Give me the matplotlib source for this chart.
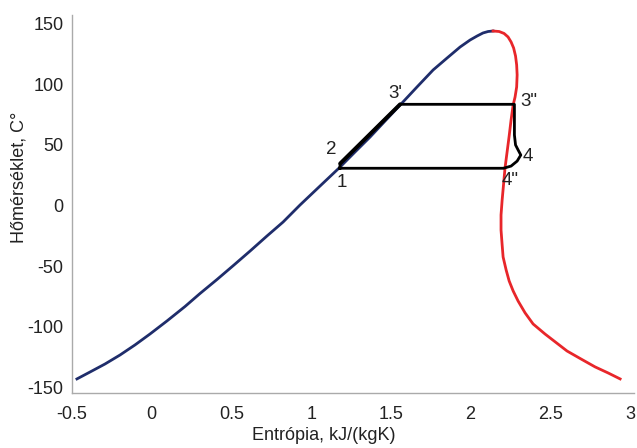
"""
T-s diagram of the working fluid with the cycle drawn on it.
"""

import matplotlib
matplotlib.use('Agg')
import matplotlib.pyplot as plt

#------------------------------------
#Data
#------------------------------------

#saturated liquid line (entropy kJ/(kgK), temperature C)
s_liq = [-0.469, -0.387, -0.293, -0.199, -0.105, -0.011, 0.096, 0.209, 0.303,
         0.410, 0.516, 0.617, 0.723, 0.824, 0.930, 1.056, 1.175, 1.275,
         1.370, 1.464, 1.558, 1.664, 1.765, 1.853, 1.934, 1.997, 2.041,
         2.078, 2.110, 2.141]
T_liq = [-142.9, -137.2, -130.6, -123.2, -114.9, -105.9, -95.1, -83.2, -72.5,
         -60.9, -49.0, -37.5, -25.1, -13.6, 0.4, 16.1, 30.9, 44.1,
         56.5, 69.7, 82.8, 97.7, 111.7, 121.6, 130.6, 136.4, 139.7,
         142.2, 143.4, 143.8]

#saturated vapour line
s_vap = [2.141, 2.179, 2.210, 2.235, 2.254, 2.270, 2.282, 2.289, 2.292,
         2.289, 2.279, 2.267, 2.254, 2.242, 2.229, 2.216, 2.207, 2.198,
         2.191, 2.191, 2.198, 2.204, 2.223, 2.242, 2.267, 2.298, 2.342,
         2.392, 2.467, 2.536, 2.605, 2.693, 2.781, 2.863, 2.938]
T_vap = [143.8, 143.4, 141.8, 138.9, 134.8, 129.8, 123.2, 115.8, 107.6,
         97.7, 89.4, 82.8, 70.5, 57.3, 44.1, 30.9, 17.7, 4.6,
         -7.8, -20.2, -32.5, -42.4, -53.1, -62.2, -70.4, -78.7, -88.5,
         -97.6, -105.9, -112.9, -119.9, -126.5, -133.0, -138.0, -142.9]

#cycle 1 -> 2 -> 3' -> 3'' -> 4 -> 4'' -> 1
s_cyc = [1.180, 1.182, 1.558, 2.275, 2.275, 2.282, 2.298, 2.315, 2.292,
         2.254, 2.206, 1.180]
T_cyc = [30.7, 34.6, 83.4, 83.4, 58.1, 49.9, 45.8, 41.6, 36.6,
         32.5, 30.7, 30.7]

#state point labels
pt_names = ['1', '2', "3'", '3"', '4', '4"']
pt_s = [1.194, 1.125, 1.526, 2.367, 2.361, 2.248]
pt_T = [18.6, 45.8, 92.7, 86.1, 40.8, 21.0]

xticks = [-0.5, 0, 0.5, 1, 1.5, 2, 2.5, 3]
yticks = [-150, -100, -50, 0, 50, 100, 150]

#------------------------------------
#Plot
#------------------------------------

plt.rc('font', family='Liberation Sans', size=13)
plt.rc('axes', unicode_minus=False)

fig = plt.figure(figsize=(6.37, 4.48), dpi=100)
ax = fig.add_axes([72/637, 55/448, 562/637, 378/448])

ax.plot(s_liq, T_liq, '-', c='#1f2d6b', lw=2)
ax.plot(s_vap, T_vap, '-', c='#e8262a', lw=2)
ax.plot(s_cyc, T_cyc, '-', c='k', lw=2, solid_joinstyle='round')
ax.plot(s_cyc[1:3], T_cyc[1:3], '-', c='k', lw=2.8, solid_capstyle='round')

for name, s, T in zip(pt_names, pt_s, pt_T):
    ax.text(s, T, name, ha='center', va='center', fontsize=13.5, color='#222222')

ax.set_xlim(-0.5, 3.025)
ax.set_ylim(-154.5, 157)
ax.set_xticks(xticks)
ax.set_xticklabels([f'{v:g}' for v in xticks])
ax.set_yticks(yticks)
ax.tick_params(length=0, colors='#222222')
ax.tick_params(axis='x', pad=9)
ax.tick_params(axis='y', pad=6)

for side in ('top', 'right'):
    ax.spines[side].set_visible(False)
for side in ('left', 'bottom'):
    ax.spines[side].set_color('#aaaaaa')
    ax.spines[side].set_linewidth(1)

ax.set_xlabel('Entrópia, kJ/(kgK)', color='#222222')
ax.set_ylabel('Hőmérséklet, C°', color='#222222')
ax.xaxis.set_label_coords(0.448, -0.09)
ax.yaxis.set_label_coords(-0.08, 0.571)

plt.savefig('out.png', dpi=100)
